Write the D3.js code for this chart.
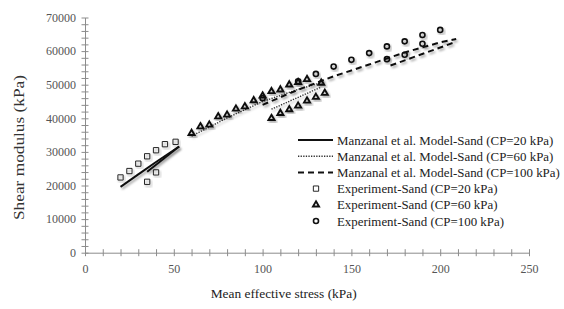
<!DOCTYPE html>
<html>
<head>
<meta charset="utf-8">
<script src="https://cdn.jsdelivr.net/npm/d3@7"></script>
<style>
  body { margin: 0; background: #fff; }
  svg { display: block; }
</style>
</head>
<body>
<div id="chart"></div>
<script>
var svgWidth = 564;
var svgHeight = 309;

// model curves [mean effective stress, shear modulus]
var modelCP20 = [[20, 19600], [30, 23300], [40, 27000], [53, 31600]];
var modelCP20b = [[35, 24100], [53, 31600]];
var modelCP60 = [[60, 34700], [80, 40100], [100, 45000], [120, 48600], [133, 50600]];
var modelCP60b = [[105, 42700], [133, 49300]];
var modelCP100 = [[100, 44000], [120, 48500], [140, 52500], [160, 56000], [180, 59600], [200, 62600], [209, 63600]];
var modelCP100b = [[172, 55700], [209, 62800]];

// experiments
var expCP20 = [[20, 22400], [25, 24300], [30, 26500], [35, 28700], [40, 30500], [45, 32300], [51, 33000],
  [35, 21100], [40, 23900]];
var expCP60 = [[60, 35570], [65, 37530], [70, 38040], [75, 40510], [80, 41020], [85, 42800], [90, 43490],
  [95, 45300], [100, 46700], [105, 48000], [110, 48500], [115, 50000], [120, 50700], [125, 51600], [133, 50500],
  [105, 40000], [110, 41500], [115, 42600], [120, 43700], [125, 45200], [130, 46300], [135, 47500]];
var expCP100 = [[100, 46000], [120, 51000], [130, 53200], [140, 55400], [150, 57400], [160, 59400],
  [170, 61400], [170, 57600], [180, 62900], [180, 58900], [190, 64800], [190, 62200], [200, 66300]];

var xTicks = [0, 50, 100, 150, 200, 250];
var yTicks = [0, 10000, 20000, 30000, 40000, 50000, 60000, 70000];

var legendNames = [
  "Manzanal et al. Model-Sand (CP=20 kPa)",
  "Manzanal et al. Model-Sand (CP=60 kPa)",
  "Manzanal et al. Model-Sand (CP=100 kPa)",
  "Experiment-Sand (CP=20 kPa)",
  "Experiment-Sand (CP=60 kPa)",
  "Experiment-Sand (CP=100 kPa)"
];

var svg = d3.select("#chart").append("svg")
  .attr("width", svgWidth)
  .attr("height", svgHeight);

var defs = svg.append("defs");
var f = defs.append("filter").attr("id", "shadow")
  .attr("x", "-50%").attr("y", "-50%").attr("width", "200%").attr("height", "200%");
f.append("feDropShadow")
  .attr("dx", 1.5).attr("dy", 2).attr("stdDeviation", 1.3)
  .attr("flood-color", "#000").attr("flood-opacity", 0.35);

var xScale = d3.scaleLinear().domain([0, 250]).range([85, 529]);
var yScale = d3.scaleLinear().domain([0, 70000]).range([252.7, 17.5]);

var axisColor = "#8c8c8c";
var tickFont = "'Liberation Serif', serif";

// y axis
var yAxis = d3.axisLeft(yScale).tickValues(d3.range(0, 70001, 2000))
  .tickSize(3.5).tickSizeOuter(0)
  .tickFormat(d => yTicks.indexOf(d) >= 0 ? d : "");
var gy = svg.append("g").attr("transform", "translate(85,0)").call(yAxis);
gy.select(".domain").attr("stroke", axisColor);
gy.selectAll(".tick line").attr("stroke", axisColor).attr("x1", 3.5);
gy.selectAll(".tick text").attr("x", -9).attr("fill", "#555")
  .style("font-family", tickFont).style("font-size", "12px");

// x axis
var xAxis = d3.axisBottom(xScale).tickValues(d3.range(0, 251, 10))
  .tickSize(3.5).tickSizeOuter(0)
  .tickFormat(d => xTicks.indexOf(d) >= 0 ? d : "");
var gx = svg.append("g").attr("transform", "translate(0,252.7)").call(xAxis);
gx.select(".domain").attr("stroke", axisColor);
gx.selectAll(".tick line").attr("stroke", axisColor).attr("y1", -3.5);
gx.selectAll(".tick text").attr("y", 20).attr("dy", 0).attr("fill", "#555")
  .style("font-family", tickFont).style("font-size", "12px");

// axis titles
svg.append("text")
  .attr("transform", "translate(24,147.5) rotate(-90)")
  .attr("text-anchor", "middle")
  .attr("textLength", 145).attr("lengthAdjust", "spacingAndGlyphs")
  .style("font-family", tickFont).style("font-size", "15.5px").attr("fill", "#333")
  .text("Shear modulus (kPa)");

svg.append("text")
  .attr("x", 283.7).attr("y", 297.5)
  .attr("text-anchor", "middle")
  .attr("textLength", 146).attr("lengthAdjust", "spacingAndGlyphs")
  .style("font-family", tickFont).style("font-size", "13.5px").attr("fill", "#222")
  .text("Mean effective stress (kPa)");

var line = d3.line().x(d => xScale(d[0])).y(d => yScale(d[1]));

var plot = svg.append("g");

function drawLine(data, dash, width, color) {
  plot.append("path")
    .datum(data)
    .attr("d", line)
    .attr("fill", "none")
    .attr("stroke", color)
    .attr("stroke-width", width)
    .attr("stroke-dasharray", dash)
    .attr("filter", "url(#shadow)");
}

drawLine(modelCP20, null, 2, "#111");
drawLine(modelCP20b, null, 2, "#111");
drawLine(modelCP60, "1.3,1.3", 1.4, "#333");
drawLine(modelCP60b, "1.3,1.3", 1.4, "#333");
drawLine(modelCP100, "6,4", 2, "#111");
drawLine(modelCP100b, "6,4", 2, "#111");

var sym20 = d3.symbol().type(d3.symbolSquare).size(28);
var sym60 = d3.symbol().type(d3.symbolTriangle).size(16);
var sym100 = d3.symbol().type(d3.symbolCircle).size(20);

function drawPoints(data, sym, width) {
  plot.append("g").selectAll("path")
    .data(data)
    .enter()
    .append("path")
    .attr("d", sym)
    .attr("transform", d => `translate(${xScale(d[0])},${yScale(d[1])})`)
    .attr("fill", "none")
    .attr("stroke", "#111")
    .attr("stroke-width", width)
    .attr("filter", "url(#shadow)");
}

drawPoints(expCP20, sym20, 0.9);
drawPoints(expCP60, sym60, 1.9);
drawPoints(expCP100, sym100, 1.6);

// legend
var legend = svg.append("g");
var rowY = d3.range(6).map(i => 140 + i * 16.2);

var legText = legend.selectAll("text")
  .data(legendNames)
  .enter()
  .append("text")
  .attr("x", 337)
  .attr("y", (d, i) => rowY[i] + 4.5)
  .style("font-family", tickFont).style("font-size", "14px").attr("fill", "#222")
  .text(d => d);

// pick a font size so the longest row fits inside the picture
var longest = d3.max(legText.nodes(), n => n.getComputedTextLength());
var legSize = Math.min(14, 14 * 223 / longest);
legText.style("font-size", legSize + "px");

var legLines = [[null, 2, "#111"], ["1.3,1.3", 1.4, "#333"], ["6,4", 2, "#111"]];
legLines.forEach(function(s, i) {
  legend.append("line")
    .attr("x1", 298).attr("x2", 333)
    .attr("y1", rowY[i]).attr("y2", rowY[i])
    .attr("stroke", s[2]).attr("stroke-width", s[1])
    .attr("stroke-dasharray", s[0]);
});

[[sym20, 0.9], [sym60, 1.9], [sym100, 1.6]].forEach(function(s, i) {
  legend.append("path")
    .attr("d", s[0])
    .attr("transform", `translate(316,${rowY[i + 3]})`)
    .attr("fill", "none").attr("stroke", "#111").attr("stroke-width", s[1]);
});
</script>
</body>
</html>
